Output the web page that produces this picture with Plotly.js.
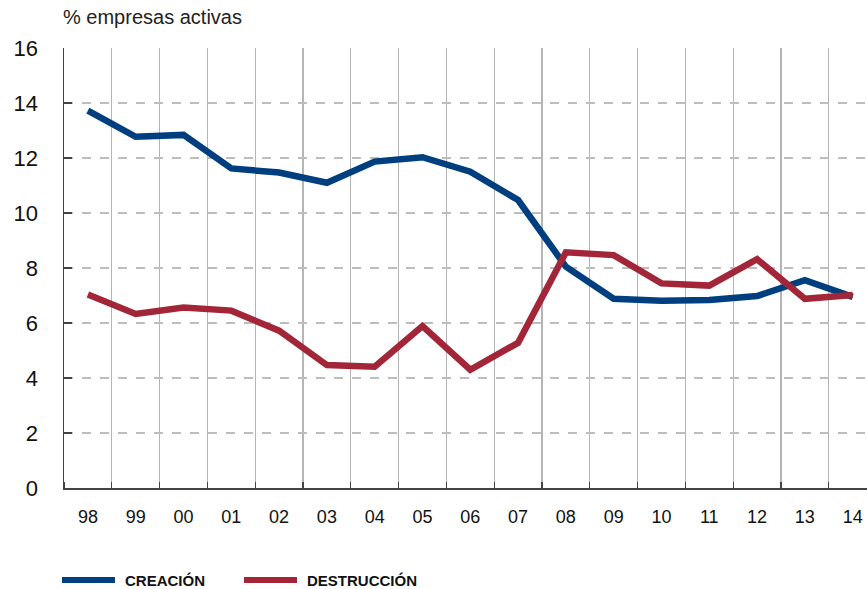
<!DOCTYPE html>
<html>
<head>
<meta charset="utf-8">
<script src="https://cdn.plot.ly/plotly-3.0.1.min.js"></script>
<style>html,body{margin:0;padding:0;background:#fff;}#chart{width:867px;height:589px;}</style>
</head>
<body>
<div id="chart"></div>
<script>
const years = ["98","99","00","01","02","03","04","05","06","07","08","09","10","11","12","13","14"];
const creacion = [13.72,12.77,12.84,11.62,11.47,11.10,11.87,12.03,11.50,10.47,8.05,6.88,6.81,6.84,6.98,7.56,6.95];
const destruccion = [7.04,6.33,6.56,6.45,5.72,4.47,4.41,5.89,4.30,5.28,8.57,8.47,7.44,7.36,8.32,6.88,7.02];
const seriesNames = ["CREACIÓN","DESTRUCCIÓN"];
const colors = ["#003F7F","#A32638"];
const yTitle = "% empresas activas";

const xIdx = years.map((_, i) => i);

const traces = [creacion, destruccion].map((vals, k) => ({
  type: "scatter", mode: "lines", x: xIdx, y: vals, name: seriesNames[k],
  line: {color: colors[k], width: 6.5}, showlegend: false, hoverinfo: "skip"
}));

const legendFont = {family: "Liberation Sans, Arial, sans-serif", size: 15, color: "#111"};
const shapes = [], annotations = [];
const legX = [[62, 115, 123], [244, 297, 305]];
seriesNames.forEach((n, k) => {
  shapes.push({type: "line", xref: "paper", yref: "paper",
    x0: (legX[k][0] - 64) / 803, x1: (legX[k][1] - 64) / 803,
    y0: (488 - 580) / 440, y1: (488 - 580) / 440,
    line: {color: colors[k], width: 6}});
  annotations.push({xref: "paper", yref: "paper", x: (legX[k][2] - 64) / 803, y: (488 - 580) / 440,
    xanchor: "left", yanchor: "middle", showarrow: false,
    text: "<b>" + n + "</b>", font: legendFont});
});
annotations.push({xref: "paper", yref: "paper", x: (61 - 64) / 803, y: (488 - 17) / 440,
  xanchor: "left", yanchor: "middle", showarrow: false, text: yTitle,
  font: {family: "Liberation Sans, Arial, sans-serif", size: 20, color: "#222"}});

const layout = {
  width: 867, height: 589,
  margin: {l: 64, r: 0, t: 48, b: 101},
  paper_bgcolor: "#fff", plot_bgcolor: "#fff",
  font: {family: "Liberation Sans, Arial, sans-serif", color: "#111"},
  xaxis: {
    range: [-0.5, 16.3], tickmode: "array", tickvals: xIdx, ticktext: years,
    showgrid: false, zeroline: false, ticks: "", showline: true, linecolor: "#444", linewidth: 1.5,
    tickfont: {size: 18, color: "#111"}, ticklabelstandoff: 12,
    minor: {tick0: 0.5, dtick: 1, showgrid: true, gridcolor: "#b5b5b5", gridwidth: 1.2,
      ticks: "inside", ticklen: 6, tickcolor: "#444", tickwidth: 1.2}
  },
  yaxis: {
    range: [0, 16], tickmode: "array", tickvals: [0,2,4,6,8,10,12,14,16],
    showgrid: true, gridcolor: "#bdbdbd", griddash: "dash", gridwidth: 1.2,
    zeroline: false, showline: true, linecolor: "#444", linewidth: 1.5,
    ticks: "inside", ticklen: 8, tickcolor: "#444", tickwidth: 1.5,
    tickfont: {size: 22, color: "#111"}, ticklabelstandoff: 20
  },
  shapes: shapes, annotations: annotations
};

Plotly.newPlot("chart", traces, layout, {displayModeBar: false, staticPlot: true});
</script>
</body>
</html>
